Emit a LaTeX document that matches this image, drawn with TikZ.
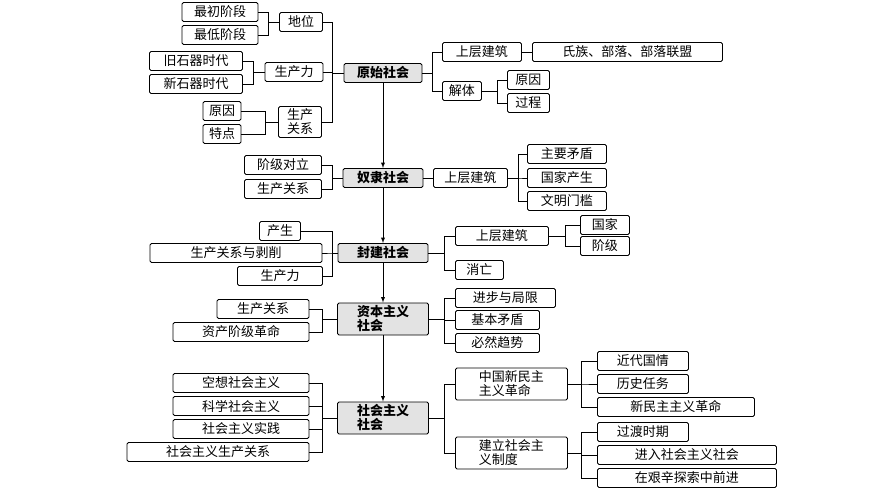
\documentclass[tikz,border=0pt]{standalone}
\usepackage{fontspec}
\setmainfont{Noto Sans CJK SC}
\begin{document}
\begin{tikzpicture}[x=1pt,y=-1pt,
 bx/.style={draw,line width=0.9pt,rounded corners=1.5pt,inner sep=1pt,minimum height=19pt,font=\fontsize{13}{14}\selectfont,align=left},
 mb/.style={bx,fill=gray!22,font=\fontsize{13}{14}\selectfont\bfseries},
 ln/.style={line width=0.8pt},
 ar/.style={line width=0.9pt,-latex}]
\useasboundingbox (0,0) rectangle (870,489);
% main column
\node[mb,minimum width=78pt] (m1) at (383,73) {原始社会};
\node[mb,minimum width=80pt] (m2) at (383,178) {奴隶社会};
\node[mb,minimum width=90pt] (m3) at (383,253) {封建社会};
\node[mb,minimum width=91pt,minimum height=32pt] (m4) at (383,319) {资本主义\\社会};
\node[mb,minimum width=91pt,minimum height=32pt] (m5) at (383,418) {社会主义\\社会};
\draw[ar] (m1) -- (m2);\draw[ar] (m2) -- (m3);\draw[ar] (m3) -- (m4);\draw[ar] (m4) -- (m5);
% 原始社会 left
\node[bx,minimum width=43pt] (a1) at (301,22) {地位};
\node[bx,minimum width=76pt] (a11) at (220,12) {最初阶段};
\node[bx,minimum width=76pt] (a12) at (220,35) {最低阶段};
\node[bx,minimum width=58pt] (a2) at (294,72) {生产力};
\node[bx,minimum width=93pt] (a21) at (196,61) {旧石器时代};
\node[bx,minimum width=93pt] (a22) at (196,84) {新石器时代};
\node[bx,minimum width=43pt,minimum height=31pt] (a3) at (300,122) {生产\\关系};
\node[bx,minimum width=38pt] (a31) at (222,111) {原因};
\node[bx,minimum width=38pt] (a32) at (222,134) {特点};
\foreach \c in {a1,a2,a3}{\draw[ln] (m1.west) -- ++(-11,0) |- (\c.east);}
\foreach \c in {a11,a12}{\draw[ln] (a1.west) -- ++(-11,0) |- (\c.east);}
\foreach \c in {a21,a22}{\draw[ln] (a2.west) -- ++(-11,0) |- (\c.east);}
\foreach \c in {a31,a32}{\draw[ln] (a3.west) -- ++(-13,0) |- (\c.east);}
% 原始社会 right
\node[bx,anchor=west,minimum width=79pt] (b1) at (442,52) {上层建筑};
\node[bx,anchor=west,minimum width=190pt] (b11) at (532,52) {氏族、部落、部落联盟};
\node[bx,anchor=west,minimum width=39pt] (b2) at (442,91) {解体};
\node[bx,anchor=west,minimum width=42pt] (b21) at (507,80) {原因};
\node[bx,anchor=west,minimum width=42pt] (b22) at (507,103) {过程};
\foreach \c in {b1,b2}{\draw[ln] (m1.east) -- ++(10,0) |- (\c.west);}
\draw[ln] (b1.east) -- (b11.west);
\foreach \c in {b21,b22}{\draw[ln] (b2.east) -- ++(15,0) |- (\c.west);}
% 奴隶社会
\node[bx,minimum width=77pt] (c1) at (283,165) {阶级对立};
\node[bx,minimum width=77pt] (c2) at (283,189) {生产关系};
\foreach \c in {c1,c2}{\draw[ln] (m2.west) -- ++(-10,0) |- (\c.east);}
\node[bx,anchor=west,minimum width=74pt] (d1) at (433,178) {上层建筑};
\draw[ln] (m2.east) -- (d1.west);
\node[bx,anchor=west,minimum width=79pt] (d11) at (527,154) {主要矛盾};
\node[bx,anchor=west,minimum width=79pt] (d12) at (527,178) {国家产生};
\node[bx,anchor=west,minimum width=79pt] (d13) at (527,201) {文明门槛};
\foreach \c in {d11,d12,d13}{\draw[ln] (d1.east) -- ++(10,0) |- (\c.west);}
% 封建社会
\node[bx,minimum width=41pt] (e1) at (280,231) {产生};
\node[bx,minimum width=172pt] (e2) at (236,253) {生产关系与剥削};
\node[bx,minimum width=85pt] (e3) at (280,276) {生产力};
\foreach \c in {e1,e2,e3}{\draw[ln] (m3.west) -- ++(-5,0) |- (\c.east);}
\node[bx,anchor=west,minimum width=93pt] (f1) at (455,236) {上层建筑};
\node[bx,anchor=west,minimum width=48pt] (f2) at (455,270) {消亡};
\foreach \c in {f1,f2}{\draw[ln] (m3.east) -- ++(16,0) |- (\c.west);}
\node[bx,anchor=west,minimum width=49pt] (f11) at (580,225) {国家};
\node[bx,anchor=west,minimum width=49pt] (f12) at (580,246) {阶级};
\foreach \c in {f11,f12}{\draw[ln] (f1.east) -- ++(16,0) |- (\c.west);}
% 资本主义社会
\node[bx,minimum width=92pt] (g1) at (263,309) {生产关系};
\node[bx,minimum width=136pt] (g2) at (241,332) {资产阶级革命};
\foreach \c in {g1,g2}{\draw[ln] (m4.west) -- ++(-15,0) |- (\c.east);}
\node[bx,anchor=west,minimum width=100pt] (h1) at (455,298) {进步与局限};
\node[bx,anchor=west,minimum width=84pt] (h2) at (455,320) {基本矛盾};
\node[bx,anchor=west,minimum width=84pt] (h3) at (455,343) {必然趋势};
\foreach \c in {h1,h2,h3}{\draw[ln] (m4.east) -- ++(15,0) |- (\c.west);}
% 社会主义社会
\node[bx,minimum width=136pt] (i1) at (241,383) {空想社会主义};
\node[bx,minimum width=136pt] (i2) at (241,406) {科学社会主义};
\node[bx,minimum width=136pt] (i3) at (241,429) {社会主义实践};
\node[bx,minimum width=182pt] (i4) at (218,452) {社会主义生产关系};
\foreach \c in {i1,i2,i3,i4}{\draw[ln] (m5.west) -- ++(-15,0) |- (\c.east);}
\node[bx,anchor=west,minimum width=112pt,minimum height=32pt] (j1) at (455,384) {中国新民主\\主义革命};
\node[bx,anchor=west,minimum width=112pt,minimum height=32pt] (j2) at (455,453) {建立社会主\\义制度};
\foreach \c in {j1,j2}{\draw[ln] (m5.east) -- ++(15,0) |- (\c.west);}
\node[bx,anchor=west,minimum width=91pt] (k1) at (597,361) {近代国情};
\node[bx,anchor=west,minimum width=91pt] (k2) at (597,384) {历史任务};
\node[bx,anchor=west,minimum width=157pt] (k3) at (597,407) {新民主主义革命};
\foreach \c in {k1,k2,k3}{\draw[ln] (j1.east) -- ++(13,0) |- (\c.west);}
\node[bx,anchor=west,minimum width=91pt] (l1) at (597,432) {过渡时期};
\node[bx,anchor=west,minimum width=179pt] (l2) at (597,455) {进入社会主义社会};
\node[bx,anchor=west,minimum width=179pt] (l3) at (597,478) {在艰辛探索中前进};
\foreach \c in {l1,l2,l3}{\draw[ln] (j2.east) -- ++(13,0) |- (\c.west);}
\end{tikzpicture}
\end{document}
